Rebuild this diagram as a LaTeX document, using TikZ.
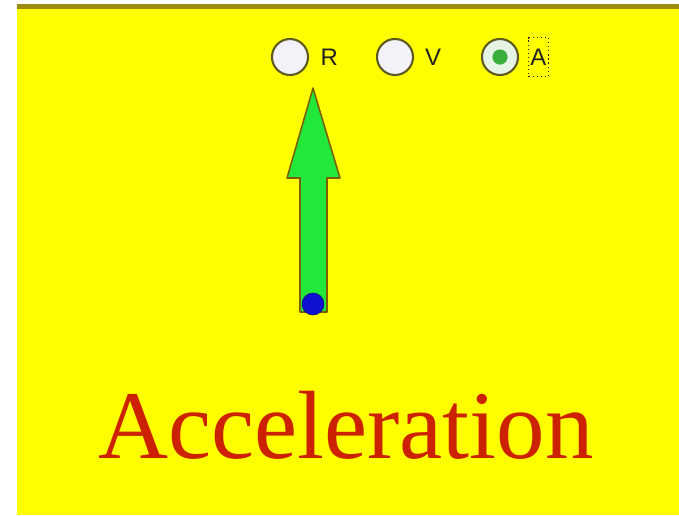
\documentclass[tikz,border=0pt]{standalone}
\usepackage{fontspec}
\setmainfont{Liberation Serif}
\newfontfamily\uifont{Liberation Sans}
\usepackage{tikz}
\usetikzlibrary{positioning}
\definecolor{page}{HTML}{FFFF00}
\definecolor{band}{HTML}{9C8A12}
\definecolor{rim}{HTML}{7A6000}
\definecolor{ring}{HTML}{5E5A22}
\definecolor{blank}{HTML}{F2F2F8}
\definecolor{picked}{HTML}{E6F4E6}
\definecolor{leaf}{HTML}{22E83A}
\definecolor{knob}{HTML}{3AAE3A}
\definecolor{ball}{HTML}{1010D0}
\definecolor{title}{HTML}{CC2200}
\definecolor{ink}{HTML}{222222}

\begin{document}
\begin{tikzpicture}[x=0.025cm,y=-0.025cm]
\useasboundingbox (0,0) rectangle (679,515);
\fill[page] (17,9) rectangle (679,515);
\fill[band] (17,4) rectangle (679,9);
\node[draw=ring,fill=blank,line width=1.5pt,circle,minimum size=.9cm,inner sep=0] (optR) at (290,57){};
\node[draw=ring,fill=blank,line width=1.5pt,circle,minimum size=.9cm,inner sep=0] (optV) at (395,57){};
\node[draw=ring,fill=picked,line width=1.5pt,circle,minimum size=.9cm,inner sep=0] (optA) at (500,57){};
\node[fill=knob,circle,minimum size=.38cm,inner sep=0] (knobA) at (optA){};
\node[text=ink,inner sep=0,font=\uifont\fontsize{17}{17}\selectfont,right=.28cm of optR] (labR){R};
\node[text=ink,inner sep=0,font=\uifont\fontsize{17}{17}\selectfont,right=.27cm of optV] (labV){V};
\node[text=ink,draw=ink,dotted,line width=.9pt,inner sep=0,inner xsep=.05cm,minimum height=.97cm,font=\uifont\fontsize{17}{17}\selectfont,right=.22cm of optA] (labA){A};
\draw[draw=rim,fill=leaf,line width=1.1pt,line join=round] (300,312)--(300,178)--(287,178)--(313,88)--(340,178)--(327,178)--(327,312)--cycle;
\node[draw=ball!60!black,fill=ball,circle,minimum size=.55cm,inner sep=0] (tail) at (313,304){};
\node[text=title,anchor=base,inner sep=0,font=\fontsize{69}{69}\selectfont] (word) at (346,458){Acceleration};
\end{tikzpicture}
\end{document}
